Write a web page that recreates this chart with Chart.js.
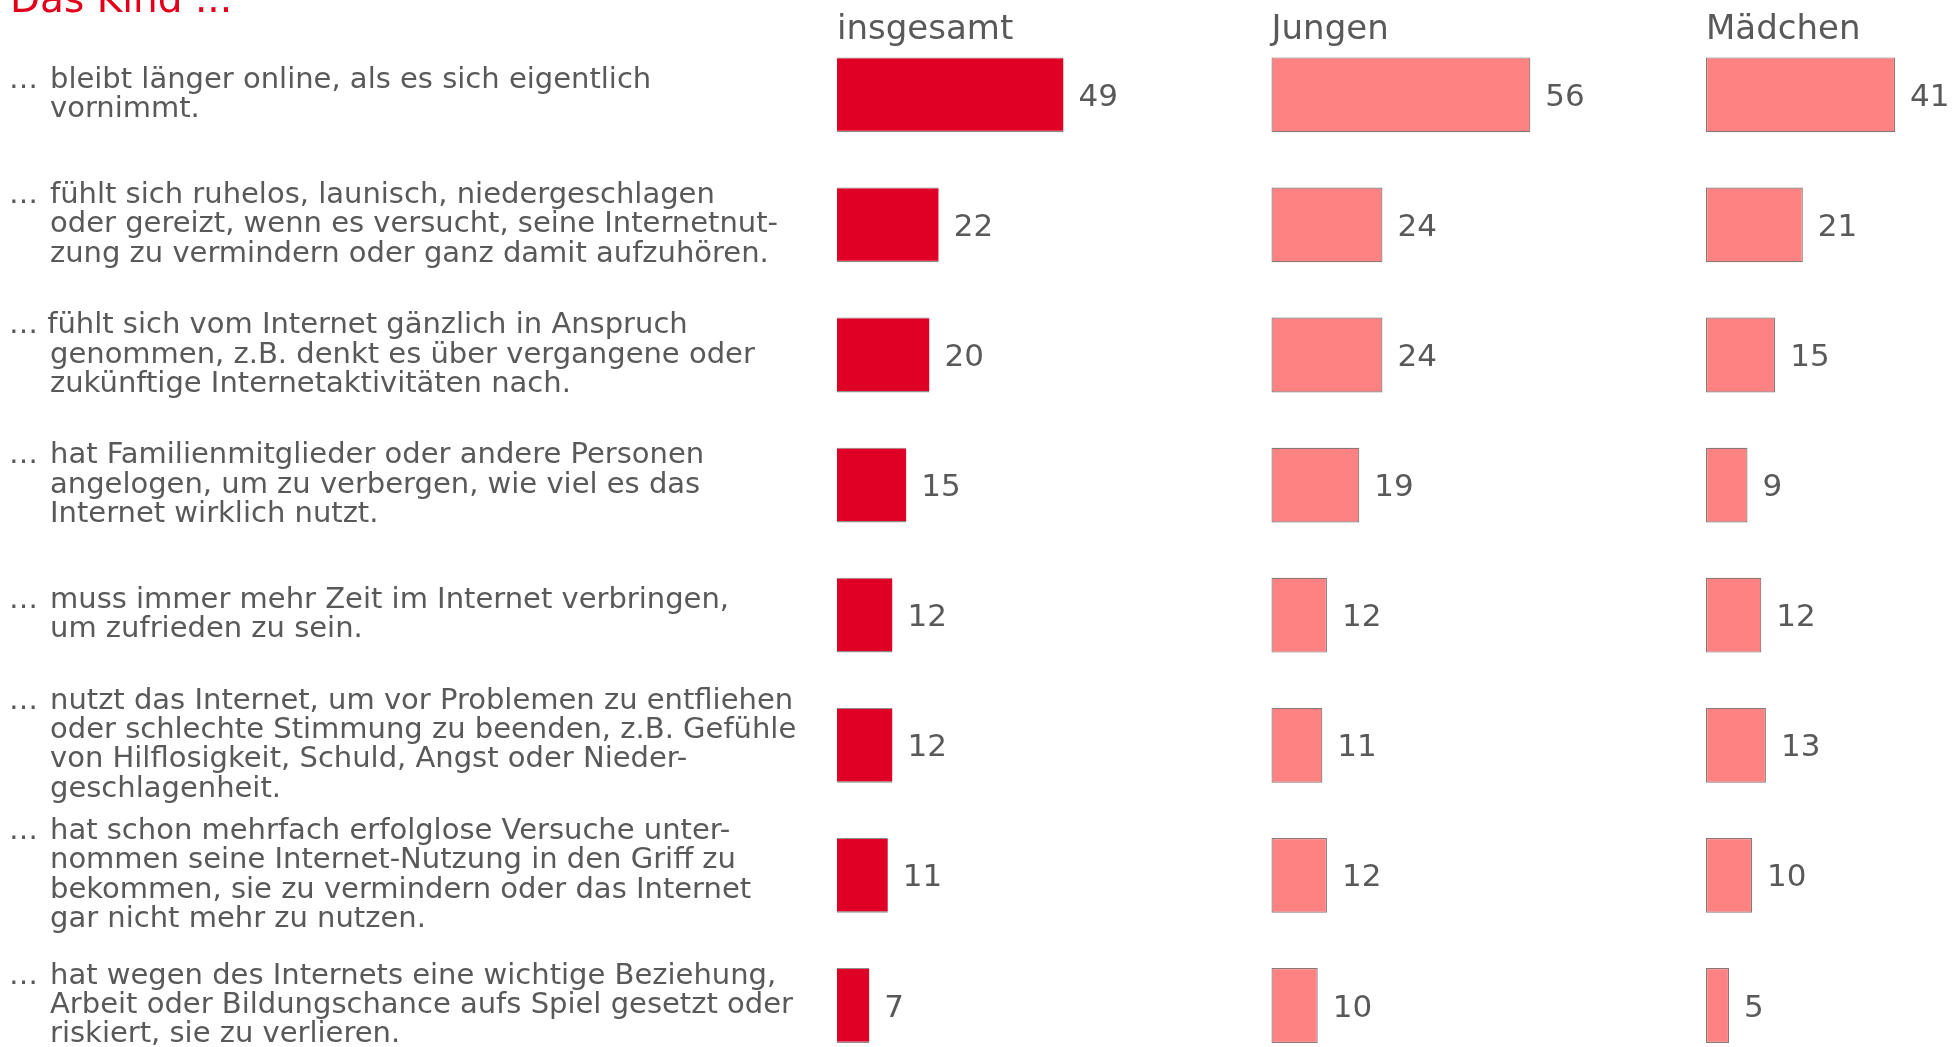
<!DOCTYPE html>
<html lang="de">
<head>
<meta charset="utf-8">
<script src="https://cdn.jsdelivr.net/npm/chart.js@4.4.1/dist/chart.umd.min.js"></script>
<style>
  html, body { margin: 0; padding: 0; background: #fff; }
  #wrap { width: 1955px; height: 1047px; position: relative; }
</style>
</head>
<body>
<div id="wrap"><canvas id="chart"></canvas></div>
<script>
const title = 'Das Kind ...';
const groups = ['insgesamt', 'Jungen', 'Mädchen'];

// '\t' separates the leading ellipsis from the indented text
const items = [
  ['…\tbleibt länger online, als es sich eigentlich', 'vornimmt.'],
  ['…\tfühlt sich ruhelos, launisch, niedergeschlagen', 'oder gereizt, wenn es versucht, seine Internetnut-', 'zung zu vermindern oder ganz damit aufzuhören.'],
  ['… fühlt sich vom Internet gänzlich in Anspruch', 'genommen, z.B. denkt es über vergangene oder', 'zukünftige Internetaktivitäten nach.'],
  ['…\that Familienmitglieder oder andere Personen', 'angelogen, um zu verbergen, wie viel es das', 'Internet wirklich nutzt.'],
  ['…\tmuss immer mehr Zeit im Internet verbringen,', 'um zufrieden zu sein.'],
  ['…\tnutzt das Internet, um vor Problemen zu entfliehen', 'oder schlechte Stimmung zu beenden, z.B. Gefühle', 'von Hilflosigkeit, Schuld, Angst oder Nieder-', 'geschlagenheit.'],
  ['…\that schon mehrfach erfolglose Versuche unter-', 'nommen seine Internet-Nutzung in den Griff zu', 'bekommen, sie zu vermindern oder das Internet', 'gar nicht mehr zu nutzen.'],
  ['…\that wegen des Internets eine wichtige Beziehung,', 'Arbeit oder Bildungschance aufs Spiel gesetzt oder', 'riskiert, sie zu verlieren.'],
];

const insgesamt = [49, 22, 20, 15, 12, 12, 11, 7];
const jungen    = [56, 24, 24, 19, 12, 11, 12, 10];
const maedchen  = [41, 21, 15,  9, 12, 13, 10, 5];

const TEXT = '#595959';
const FONT = '"DejaVu Sans", Verdana, sans-serif';

const annotate = {
  id: 'annotate',
  afterDatasetsDraw(chart) {
    const ctx = chart.ctx;
    ctx.save();
    ctx.fillStyle = TEXT;
    ctx.textAlign = 'left';
    ctx.textBaseline = 'middle';

    // values right of the bars
    ctx.font = '31px ' + FONT;
    chart.data.datasets.forEach((ds, di) => {
      chart.getDatasetMeta(di).data.forEach((bar, i) => {
        ctx.fillText(String(ds.data[i]), bar.x + 15, bar.y + 3);
      });
    });

    // statements on the left
    const y = chart.scales.y;
    const lh = 29.3;
    ctx.font = '29px ' + FONT;
    items.forEach((lines, i) => {
      const y0 = y.getPixelForValue(i) - (lines.length - 1) * lh / 2;
      lines.forEach((line, k) => {
        const ly = y0 + k * lh;
        if (line.includes('\t')) {
          const [dots, rest] = line.split('\t');
          ctx.fillText(dots, 9, ly);
          ctx.fillText(rest, 50, ly);
        } else {
          ctx.fillText(line, k === 0 ? 9 : 50, ly);
        }
      });
    });

    // heading, mostly cut off at the top
    ctx.font = '39px ' + FONT;
    ctx.fillStyle = '#e2001a';
    ctx.textBaseline = 'alphabetic';
    ctx.fillText(title, 10, 12);
    ctx.restore();
  }
};

function panelAxis(text, weight, max) {
  return {
    position: 'top',
    stack: 'panels',
    stackWeight: weight,
    min: 0,
    max: max,
    grid: { display: false, drawTicks: false },
    border: { display: false },
    ticks: { display: false },
    title: {
      display: true,
      text: text,
      align: 'start',
      color: TEXT,
      font: { family: FONT, size: 34, lineHeight: 1.2 },
      padding: { top: 0, bottom: 44.5 }
    }
  };
}

const redBar = {
  backgroundColor: '#e00025',
  borderColor: 'rgba(120,110,110,0.8)',
  borderWidth: { top: 1, bottom: 1.5, left: 0, right: 0 },
  borderSkipped: false,
};
const pinkBar = {
  backgroundColor: '#ff8282',
  borderColor: 'rgba(120,95,95,0.85)',
  borderWidth: 1.2,
  borderSkipped: false,
};

new Chart(document.getElementById('chart'), {
  type: 'bar',
  data: {
    labels: items,
    datasets: [
      { label: groups[0], data: insgesamt, xAxisID: 'x0', ...redBar },
      { label: groups[1], data: jungen, xAxisID: 'x1', ...pinkBar },
      { label: groups[2], data: maedchen, xAxisID: 'x2', ...pinkBar },
    ]
  },
  options: {
    indexAxis: 'y',
    responsive: true,
    maintainAspectRatio: false,
    animation: false,
    layout: { padding: { top: 9.5, bottom: 41.5, left: 0, right: 0 } },
    datasets: {
      bar: { grouped: false, categoryPercentage: 1, barPercentage: 0.575, clip: false }
    },
    plugins: { legend: { display: false }, tooltip: { enabled: false } },
    scales: {
      y: {
        offset: false,
        grid: { display: false, drawTicks: false },
        border: { display: false },
        ticks: { display: false },
        afterFit: s => { s.width = 837; }
      },
      // top boxes are laid out last-declared first, so the panels go in reverse
      x2: panelAxis(groups[2], 249, 54),
      x1: panelAxis(groups[1], 434.5, 94),
      x0: panelAxis(groups[0], 434.5, 94),
    }
  },
  plugins: [annotate]
});
</script>
</body>
</html>
